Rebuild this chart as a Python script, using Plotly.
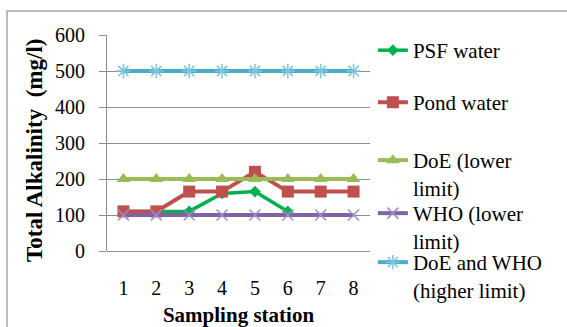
import plotly.graph_objects as go

# Sampling stations and total alkalinity readings (mg/l)
stations = ["1", "2", "3", "4", "5", "6", "7", "8"]
psf_water = [110, 110, 110, 160, 165, 110, None, None]
pond_water = [110, 110, 165, 165, 220, 165, 165, 165]
doe_lower = [200, 200, 200, 200, 200, 200, 200, 200]
who_lower = [100, 100, 100, 100, 100, 100, 100, 100]
doe_who_higher = [500, 500, 500, 500, 500, 500, 500, 500]

y_ticks = [0, 100, 200, 300, 400, 500, 600]

FONT = "Times New Roman, Liberation Serif, serif"
GRID = "#8c8c8c"

series = [
    ("PSF water", psf_water, "#00B050", dict(symbol="diamond", size=9, color="#00B050"), 3.5),
    ("Pond water", pond_water, "#C0504D", dict(symbol="square", size=12, color="#C0504D"), 4),
    ("DoE (lower<br>limit)", doe_lower, "#9BBB59", dict(symbol="triangle-up", size=12, color="#9BBB59"), 4),
    ("WHO (lower<br>limit)", who_lower, "#8064A2",
     dict(symbol="x-thin-open", size=11, color="#A08CC8", line=dict(color="#A08CC8", width=1.5)), 4),
    ("DoE and WHO<br>(higher limit)", doe_who_higher, "#4BACC6",
     dict(symbol="asterisk-open", size=12, color="#7CC6DA", line=dict(color="#7CC6DA", width=1.5)), 4),
]

# one legend box per series so the entries can be spaced freely
legend_tops = [1.023, 0.782, 0.514, 0.2685, 0.0417]
legend_ids = ["legend", "legend2", "legend3", "legend4", "legend5"]

fig = go.Figure()
for (name, vals, color, marker, width), lid in zip(series, legend_ids):
    fig.add_trace(go.Scatter(
        x=stations, y=vals, name=name, mode="lines+markers",
        line=dict(color=color, width=width), marker=marker,
        connectgaps=False, legend=lid,
    ))

legend_style = dict(
    x=1.011, xanchor="left", yanchor="top",
    font=dict(family=FONT, size=21, color="black"),
    valign="top", itemwidth=30, tracegroupgap=0,
    bgcolor="rgba(0,0,0,0)", maxheight=400,
)

fig.update_layout(
    width=567, height=327,
    margin=dict(l=107, r=197, t=35, b=76),
    paper_bgcolor="white", plot_bgcolor="white",
    font=dict(family=FONT, size=20, color="black"),
    showlegend=True,
    xaxis=dict(
        type="category", range=[-0.5, 7.5], automargin=False,
        showgrid=False, zeroline=False, showline=False,
        ticks="", ticklabelstandoff=23,
        tickfont=dict(family=FONT, size=20),
        title=dict(text="<b>Sampling station</b>", font=dict(family=FONT, size=21), standoff=9),
    ),
    yaxis=dict(
        range=[0, 600], tickvals=y_ticks, automargin=False,
        showgrid=True, gridcolor=GRID, gridwidth=1,
        zeroline=True, zerolinecolor=GRID, zerolinewidth=1,
        showline=True, linecolor=GRID, linewidth=1,
        ticks="outside", ticklen=7, tickcolor=GRID,
        ticklabelstandoff=10,
        tickfont=dict(family=FONT, size=20),
    ),
    annotations=[dict(
        text="<b>Total Alkalinity  (mg/l)</b>", textangle=-90,
        xref="paper", yref="paper", x=(34 - 107) / 263, y=(251 - 151) / 216,
        xanchor="center", yanchor="middle", showarrow=False,
        font=dict(family=FONT, size=23, color="black"),
    )],
    shapes=[dict(
        type="rect", xref="paper", yref="paper",
        x0=(7 - 107) / 263, x1=1.8, y0=-0.5, y1=(251 - 11) / 216,
        line=dict(color="#a6a6a6", width=1.5), layer="below",
    )],
)
for lid, top in zip(legend_ids, legend_tops):
    fig.update_layout({lid: dict(legend_style, y=top)})

fig.write_html("out.html")
